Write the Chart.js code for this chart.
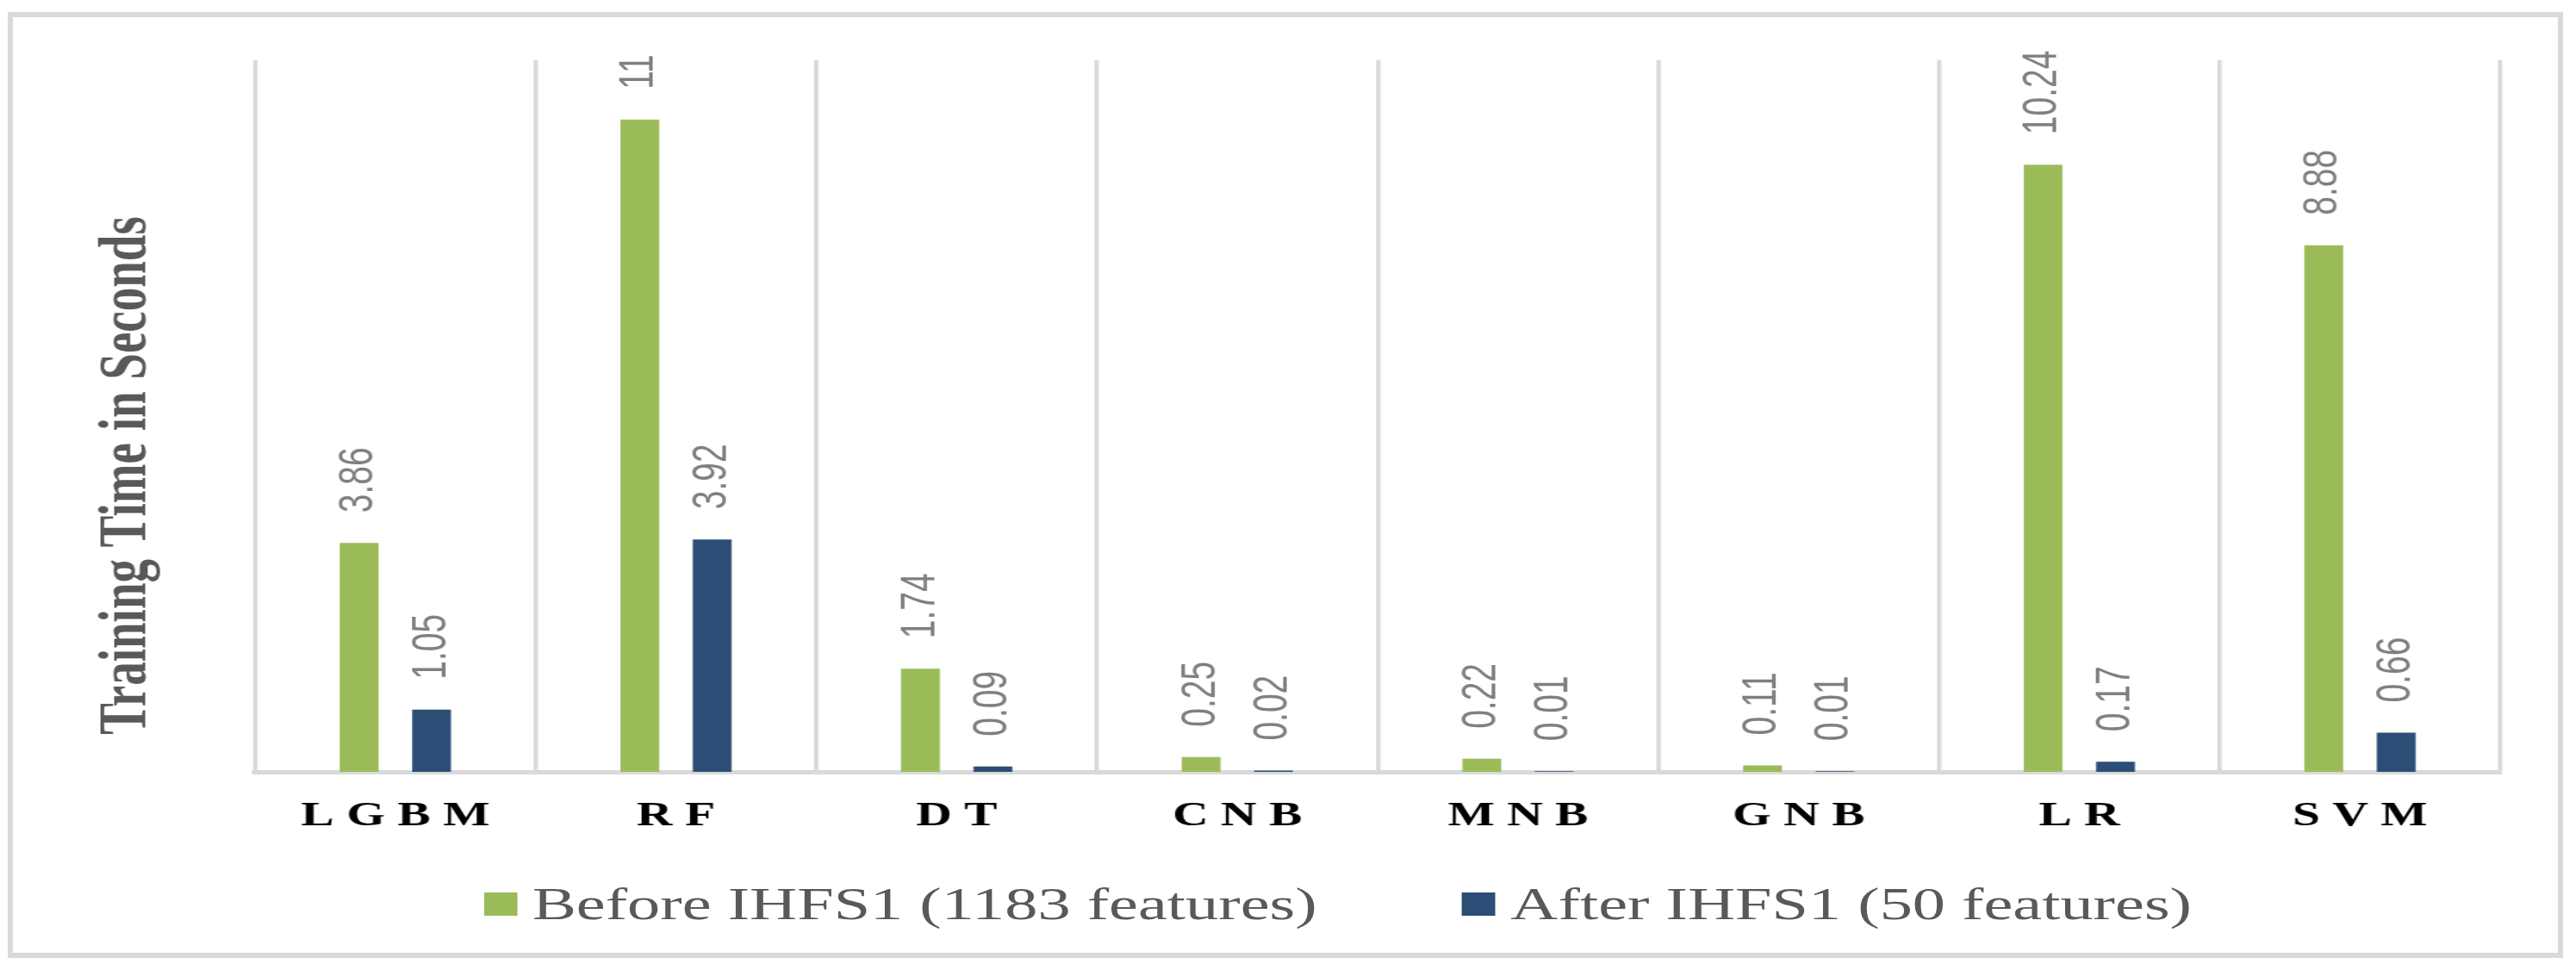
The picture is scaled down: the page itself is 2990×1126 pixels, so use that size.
<!DOCTYPE html>
<html>
<head>
<meta charset="utf-8">
<script src="https://cdn.jsdelivr.net/npm/chart.js@4.4.1/dist/chart.umd.min.js"></script>
<style>
  html, body { margin:0; padding:0; background:#fff; overflow:hidden; }
  #page { position:relative; width:2990px; height:1126px; }
  #frame {
    position:absolute; left:9px; top:14px; width:2966px; height:1098px;
    border:6px solid #d9d9d9; box-sizing:border-box;
  }
  /* the figure is stretched sideways, so draw narrow and scale x */
  #stretch {
    position:absolute; left:0; top:0; width:2076px; height:1126px;
    transform:scaleX(1.44027); transform-origin:0 0;
  }
  #trainChart { position:absolute; left:0; top:0; width:2076px; height:1126px; }
  #legend {
    position:absolute; left:390px; top:1023px; height:53px;
    display:flex; align-items:center; gap:117px;
    font-family:"Liberation Serif", serif; font-size:53px; line-height:53px; color:#595959;
    white-space:nowrap;
  }
  .item { display:flex; align-items:center; }
  .box { width:27px; height:27px; margin-right:12px; }
</style>
</head>
<body>
<div id="page">
  <div id="frame"></div>
  <div id="stretch">
    <canvas id="trainChart" width="2076" height="1126"></canvas>
    <div id="legend"></div>
  </div>
</div>

<script>
/* ================= DATA ================= */
const models = ["LGBM","RF","DT","CNB","MNB","GNB","LR","SVM"];
const beforeTimes = [3.86, 11, 1.74, 0.25, 0.22, 0.11, 10.24, 8.88];
const afterTimes  = [1.05, 3.92, 0.09, 0.02, 0.01, 0.01, 0.17, 0.66];
const seriesNames = ["Before IHFS1 (1183 features)", "After IHFS1 (50 features)"];
const seriesColors = ["#9bbb59", "#2c4d75"];
const yTitle = "Training Time in Seconds";

/* ================= PLUGINS ================= */
// rotated value labels above each bar
const barValues = {
  id:"barValues",
  afterDatasetsDraw(chart){
    const ctx = chart.ctx;
    ctx.save();
    ctx.font = "39px 'Liberation Sans', Arial, sans-serif";
    ctx.fillStyle = "#7f7f7f";
    ctx.textAlign = "left";
    ctx.textBaseline = "middle";
    chart.data.datasets.forEach((ds, di) => {
      chart.getDatasetMeta(di).data.forEach((bar, i) => {
        ctx.save();
        ctx.translate(bar.x, bar.y - 35);
        ctx.rotate(-Math.PI/2);
        ctx.fillText(String(ds.data[i]), 0, 0);
        ctx.restore();
      });
    });
    ctx.restore();
  }
};

// y axis title, sits a bit below the plot centre
const sideTitle = {
  id:"sideTitle",
  afterDraw(chart){
    const {ctx, chartArea} = chart;
    ctx.save();
    ctx.translate(chartArea.left/2, (chartArea.top+chartArea.bottom)/2 + 69);
    ctx.rotate(-Math.PI/2);
    ctx.font = "bold 55px 'Liberation Serif', 'Times New Roman', serif";
    ctx.fillStyle = "#595959";
    ctx.textAlign = "center";
    ctx.textBaseline = "middle";
    ctx.fillText(yTitle, 0, 0);
    ctx.restore();
  }
};

/* ================= CHART ================= */
const chart = new Chart(document.getElementById("trainChart"), {
  type:"bar",
  data:{
    labels:models,
    datasets:[
      {label:seriesNames[0], data:beforeTimes, backgroundColor:seriesColors[0]},
      {label:seriesNames[1], data:afterTimes, backgroundColor:seriesColors[1]}
    ]
  },
  options:{
    responsive:false,
    animation:false,
    devicePixelRatio:1,
    categoryPercentage:0.516,
    barPercentage:0.536,
    layout:{padding:{left:0, right:61, top:70, bottom:130}},
    plugins:{legend:{display:false}, tooltip:{enabled:false}},
    scales:{
      x:{
        grid:{display:true, color:"#d9d9d9", lineWidth:3.5, drawTicks:false, offset:true},
        border:{display:true, color:"#d9d9d9", width:5},
        ticks:{
          color:"#000",
          padding:28,
          font:{family:"'Liberation Serif', 'Times New Roman', serif", size:40, weight:"bold"},
          callback:(v,i) => models[i].split("").join(" ")
        },
        afterFit:s => { s.height = 100; }
      },
      y:{
        min:0, max:12,
        grid:{display:false},
        border:{display:false},
        ticks:{display:false},
        afterFit:s => { s.width = 205.5; }
      }
    }
  },
  plugins:[barValues, sideTitle]
});

/* ================= LEGEND ================= */
function buildLegend(c){
  const box = document.getElementById("legend");
  box.innerHTML = "";
  c.data.datasets.forEach(ds => {
    box.innerHTML += `
      <div class="item">
        <span class="box" style="background:${ds.backgroundColor}"></span>
        <span>${ds.label}</span>
      </div>`;
  });
}
buildLegend(chart);
</script>
</body>
</html>
